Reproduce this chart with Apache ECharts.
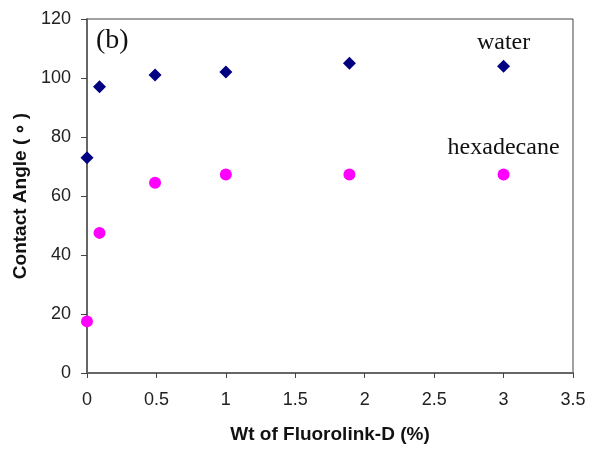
<!DOCTYPE html>
<html>
<head>
<meta charset="utf-8">
<script src="https://cdn.jsdelivr.net/npm/echarts@6/dist/echarts.min.js"></script>
<style>
  html, body { margin: 0; padding: 0; background: #fff; }
  #chart { width: 590px; height: 449px; }
</style>
</head>
<body>
<div id="chart"></div>
<script>
// values
var wtPct = [0, 0.09, 0.49, 1.0, 1.89, 3.0];
var water = [73, 97, 101, 102, 105, 104];
var hexadecane = [17.5, 47.5, 64.5, 67.3, 67.3, 67.3];
var xTicks = [0, 3.5, 0.5];
var yTicks = [0, 120, 20];

var chart = echarts.init(document.getElementById('chart'));

function pairs(xs, ys, lastLabel, dist) {
    var out = [];
    for (var i = 0; i < xs.length; i++) {
        var item = { value: [xs[i], ys[i]] };
        if (i == xs.length - 1) {
            item.label = {
                show: true, position: 'top', distance: dist,
                formatter: lastLabel,
                fontFamily: 'Liberation Serif', fontSize: 24, color: '#111'
            };
        }
        out.push(item);
    }
    return out;
}

var axisFont = { fontFamily: 'Liberation Sans', fontSize: 18, color: '#222' };

chart.setOption({
    animation: false,
    grid: { left: 87, right: 17, top: 19, bottom: 73, show: true, borderColor: '#444', borderWidth: 1 },
    xAxis: {
        type: 'value', min: xTicks[0], max: xTicks[1], interval: xTicks[2],
        name: 'Wt of Fluorolink-D (%)', nameLocation: 'middle', nameGap: 52,
        nameTextStyle: { fontFamily: 'Liberation Sans', fontSize: 19, fontWeight: 'bold', color: '#111' },
        axisLine: { lineStyle: { color: '#666', width: 2 } },
        axisTick: { show: true, length: 5, lineStyle: { color: '#444' } },
        axisLabel: Object.assign({ margin: 18 }, axisFont),
        splitLine: { show: false }
    },
    yAxis: {
        type: 'value', min: yTicks[0], max: yTicks[1], interval: yTicks[2],
        name: 'Contact Angle (\u2009\u2218\u2009)', nameLocation: 'middle', nameGap: 55, nameRotate: 90,
        nameTextStyle: { fontFamily: 'Liberation Sans', fontSize: 19, fontWeight: 'bold', color: '#111' },
        axisLine: { show: true, lineStyle: { color: '#666', width: 2 } },
        axisTick: { show: true, length: 6, lineStyle: { color: '#444' } },
        axisLabel: Object.assign({ margin: 16 }, axisFont),
        splitLine: { show: false }
    },
    graphic: [{
        type: 'text', left: 96, top: 27,
        style: { text: '(b)', fontFamily: 'Liberation Serif', fontSize: 28, fill: '#111' }
    }],
    series: [{
        name: 'water', type: 'scatter', symbol: 'diamond', symbolSize: 13,
        itemStyle: { color: '#000080', opacity: 1 },
        data: pairs(wtPct, water, 'water', 5)
    }, {
        name: 'hexadecane', type: 'scatter', symbol: 'circle', symbolSize: 12,
        itemStyle: { color: '#FF00FF', opacity: 1 },
        data: pairs(wtPct, hexadecane, 'hexadecane', 9)
    }]
});
</script>
</body>
</html>
